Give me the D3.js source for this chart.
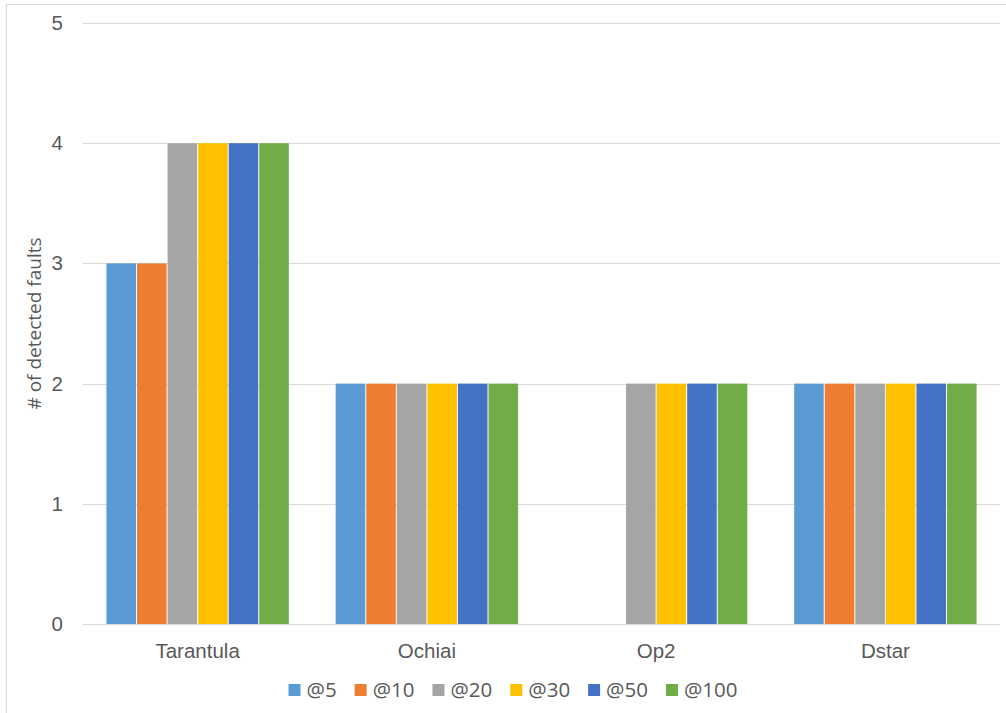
<!DOCTYPE html>
<meta charset="utf-8">
<style>
body { margin: 0; background: #fff; }
svg { display: block; font-family: "Open Sans", sans-serif; }
.axis text { font-size: 20.5px; fill: #595959; }
.axis path { display: none; }
.axis--y line { stroke: #d9d9d9; shape-rendering: crispEdges; }
.legend text { font-size: 20.5px; fill: #595959; }
.title { font-size: 19px; fill: #595959; }
</style>
<body>
<div id="chart"></div>
<script src="https://cdn.jsdelivr.net/npm/d3@7"></script>
<script>
var categories = ["Tarantula", "Ochiai", "Op2", "Dstar"];
var seriesNames = ["@5", "@10", "@20", "@30", "@50", "@100"];
var seriesColors = ["#5b9bd5", "#ed7d31", "#a5a5a5", "#ffc000", "#4472c4", "#70ad47"];
var at5 = [3, 2, 0, 2];
var at10 = [3, 2, 0, 2];
var at20 = [4, 2, 2, 2];
var at30 = [4, 2, 2, 2];
var at50 = [4, 2, 2, 2];
var at100 = [4, 2, 2, 2];
var yTicks = [0, 1, 2, 3, 4, 5];

var seriesValues = [at5, at10, at20, at30, at50, at100];

var W = 1006, H = 713;
var plot = {left: 83, right: 1000, top: 23, bottom: 624};

var svg = d3.select("#chart").append("svg")
    .attr("width", W)
    .attr("height", H);

// chart border (right/bottom run off the canvas)
svg.append("rect")
    .attr("x", 6.5).attr("y", 4.5)
    .attr("width", W).attr("height", H)
    .attr("fill", "#fff")
    .attr("stroke", "#d9d9d9");

var x0 = d3.scaleBand()
    .domain(categories)
    .range([plot.left, plot.right])
    .paddingInner(0.2)
    .paddingOuter(0.1);

var x1 = d3.scaleBand()
    .domain(seriesNames)
    .range([0, x0.bandwidth()]);

var y = d3.scaleLinear()
    .domain([0, 5])
    .range([plot.bottom, plot.top]);

var color = d3.scaleOrdinal().domain(seriesNames).range(seriesColors);

// y axis with gridlines
var yAxis = d3.axisLeft(y)
    .tickValues(yTicks)
    .tickFormat(d3.format("d"))
    .tickSize(-(plot.right - plot.left))
    .tickPadding(20);

svg.append("g")
    .attr("class", "axis axis--y")
    .attr("transform", "translate(" + plot.left + ",0)")
    .call(yAxis);

// bars
var rows = [];
categories.forEach(function(c, i) {
  seriesNames.forEach(function(s, j) {
    rows.push({cat: c, series: s, value: seriesValues[j][i]});
  });
});

svg.append("g").selectAll("rect")
  .data(rows)
  .enter().append("rect")
    .attr("x", function(d) { return x0(d.cat) + x1(d.series) + 0.5; })
    .attr("y", function(d) { return y(d.value); })
    .attr("width", x1.bandwidth() - 1)
    .attr("height", function(d) { return y(0) - y(d.value); })
    .attr("fill", function(d) { return color(d.series); });

// x axis labels
var xAxis = d3.axisBottom(x0).tickSize(0).tickPadding(19);
svg.append("g")
    .attr("class", "axis axis--x")
    .attr("transform", "translate(0," + plot.bottom + ")")
    .call(xAxis);

// y title
svg.append("text")
    .attr("class", "title")
    .attr("transform", "translate(41," + ((plot.top + plot.bottom) / 2) + ") rotate(-90)")
    .attr("text-anchor", "middle")
    .text("# of detected faults");

// legend
var legend = svg.append("g").attr("class", "legend");
var items = legend.selectAll("g")
  .data(seriesNames)
  .enter().append("g");

items.append("rect")
    .attr("width", 12).attr("height", 12)
    .attr("y", -6)
    .attr("fill", function(d) { return color(d); });

items.append("text")
    .attr("x", 18)
    .attr("dy", "0.35em")
    .text(function(d) { return d; });

var offset = 0;
items.each(function() {
  var g = d3.select(this);
  var w = 18 + g.select("text").node().getComputedTextLength();
  g.attr("transform", "translate(" + offset + ",0)");
  offset += w + 18;
});
var total = offset - 18;
legend.attr("transform", "translate(" + (513 - total / 2) + ",690)");
</script>
</body>
